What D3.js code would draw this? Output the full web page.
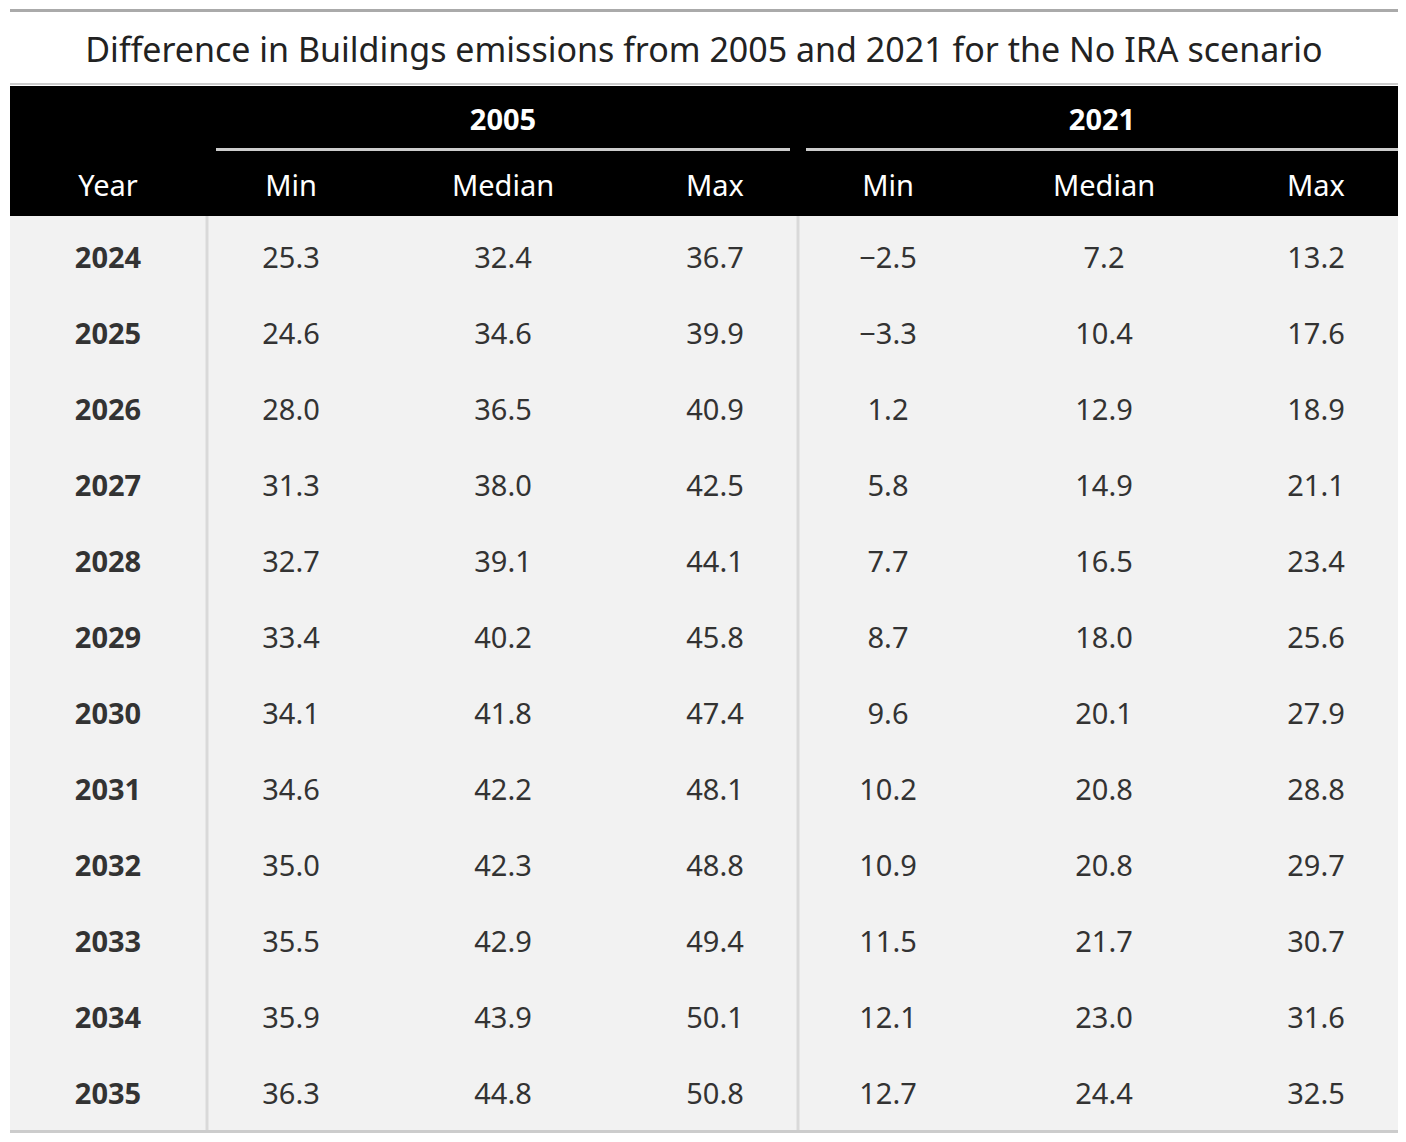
<!DOCTYPE html>
<html><head><meta charset="utf-8">
<script src="https://cdn.jsdelivr.net/npm/d3@7"></script>
<style>body{margin:0;background:#fff}svg{display:block}text{font-family:"Noto Sans",sans-serif}</style>
</head><body><svg width="1406" height="1142"></svg>
<script>
const title = "Difference in Buildings emissions from 2005 and 2021 for the No IRA scenario";
const years = [2024,2025,2026,2027,2028,2029,2030,2031,2032,2033,2034,2035];
const min2005 = [25.3,24.6,28.0,31.3,32.7,33.4,34.1,34.6,35.0,35.5,35.9,36.3];
const med2005 = [32.4,34.6,36.5,38.0,39.1,40.2,41.8,42.2,42.3,42.9,43.9,44.8];
const max2005 = [36.7,39.9,40.9,42.5,44.1,45.8,47.4,48.1,48.8,49.4,50.1,50.8];
const min2021 = [-2.5,-3.3,1.2,5.8,7.7,8.7,9.6,10.2,10.9,11.5,12.1,12.7];
const med2021 = [7.2,10.4,12.9,14.9,16.5,18.0,20.1,20.8,20.8,21.7,23.0,24.4];
const max2021 = [13.2,17.6,18.9,21.1,23.4,25.6,27.9,28.8,29.7,30.7,31.6,32.5];
const colLabels = ["Min","Median","Max","Min","Median","Max"];
const series = [min2005,med2005,max2005,min2021,med2021,max2021];
const spanners = ["2005","2021"];

const svg = d3.select("svg");
const left = 10, right = 1398;
const colX = [108,291,503,715,888,1104,1316];
const fmt = v => d3.format(".1f")(v).replace("-", "\u2212");

svg.append("rect").attr("x",left).attr("y",9).attr("width",right-left).attr("height",3).attr("fill","#aaa");
svg.append("text").attr("x",(left+right)/2).attr("y",62).attr("text-anchor","middle")
  .attr("font-size",34).attr("fill","#222").text(title);
svg.append("rect").attr("x",left).attr("y",83).attr("width",right-left).attr("height",2).attr("fill","#ccc");

// header
svg.append("rect").attr("x",left).attr("y",86).attr("width",right-left).attr("height",130).attr("fill","#000");
const spanX = [[216,790],[806,1398]];
spanners.forEach((s,i)=>{
  svg.append("text").attr("x",(spanX[i][0]+spanX[i][1])/2).attr("y",130).attr("text-anchor","middle")
    .attr("font-size",29).attr("font-weight","bold").attr("fill","#fff").text(s);
  svg.append("rect").attr("x",spanX[i][0]).attr("y",148).attr("width",spanX[i][1]-spanX[i][0]).attr("height",3).attr("fill","#ccc");
});
svg.append("text").attr("x",colX[0]).attr("y",196).attr("text-anchor","middle").attr("font-size",29).attr("fill","#fff").text("Year");
colLabels.forEach((c,i)=>svg.append("text").attr("x",colX[i+1]).attr("y",196).attr("text-anchor","middle")
  .attr("font-size",29).attr("fill","#fff").text(c));

// body
const y = d3.scaleBand().domain(years).range([220,1132]);
svg.append("rect").attr("x",left).attr("y",216).attr("width",right-left).attr("height",916).attr("fill","#f2f2f2");
[207,798].forEach(x=>svg.append("rect").attr("x",x-1.5).attr("y",216).attr("width",3).attr("height",916).attr("fill","#d9d9d9"));
svg.append("rect").attr("x",left).attr("y",1130).attr("width",right-left).attr("height",3).attr("fill","#ccc");

const rows = svg.selectAll("g.row").data(years).join("g").attr("class","row")
  .attr("transform",d=>`translate(0,${y(d)+y.bandwidth()/2+10})`);
rows.append("text").attr("x",colX[0]).attr("text-anchor","middle").attr("font-size",29)
  .attr("font-weight","bold").attr("fill","#333").text(d=>d);
series.forEach((s,j)=>{
  rows.append("text").attr("x",colX[j+1]).attr("text-anchor","middle").attr("font-size",29)
    .attr("fill","#333").text((d,i)=>fmt(s[i]));
});
</script></body></html>
